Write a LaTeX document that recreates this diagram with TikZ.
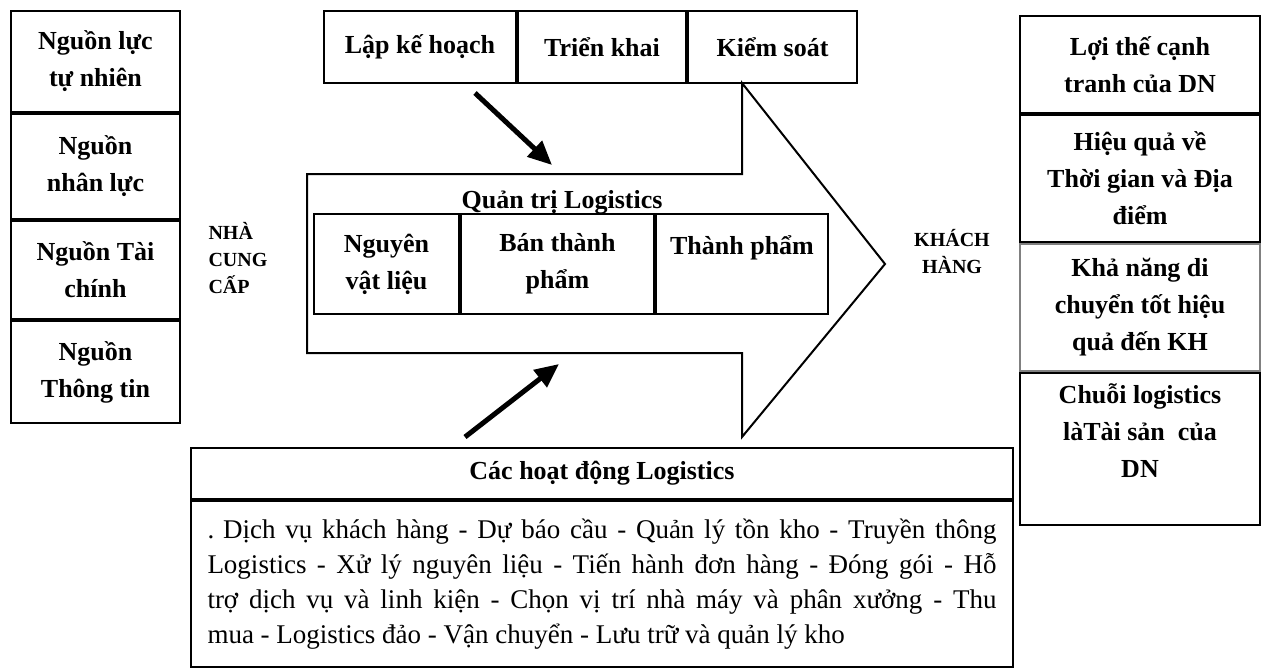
\documentclass[tikz,border=0pt]{standalone}
\usepackage{fontspec}
\setmainfont{Liberation Serif}
\usetikzlibrary{positioning,arrows.meta}

\begin{document}
\begin{tikzpicture}[x=1pt,y=-1pt,
        box/.style={draw,line width=2pt,inner sep=0pt,align=center,
          font=\fontsize{26}{37}\selectfont\bfseries},
        side/.style={align=center,font=\fontsize{20}{27}\selectfont\bfseries},
        flow/.style={line width=5pt,-{Triangle[length=24pt,width=21pt]}}]

  \useasboundingbox (0,0) rectangle (1264,669);

  \node[box,minimum width=169pt,minimum height=101pt,anchor=north west] (nat) at (10,10) {Nguồn lực\\tự nhiên};
  \node[box,minimum width=169pt,minimum height=105pt,below=0pt of nat] (hum) {Nguồn\\nhân lực};
  \node[box,minimum width=169pt,minimum height=98pt,below=0pt of hum] (fin) {Nguồn Tài\\chính};
  \node[box,minimum width=169pt,minimum height=102pt,below=0pt of fin] (info) {Nguồn\\Thông tin};

  \node[side,align=left,anchor=west] (sup) at (205,258) {NHÀ\\CUNG\\CẤP};

  \node[box,minimum width=192pt,minimum height=72pt,anchor=north west] (plan) at (323,10) {Lập kế hoạch};
  \node[box,minimum width=168pt,minimum height=72pt,right=0pt of plan] (run) {Triển khai};
  \node[box,minimum width=169pt,minimum height=72pt,right=0pt of run] (ctrl) {Kiểm soát};

  \draw[line width=2pt] (307,174) -- (742,174) -- (742,83) -- (885,264)
        -- (742,437) -- (742,353) -- (307,353) -- cycle;

  \node[font=\fontsize{26}{37}\selectfont\bfseries] (mgmt) at (562,202) {Quản trị Logistics};
  \node[box,minimum width=145pt,minimum height=100pt,anchor=north west] (raw) at (313,213) {Nguyên\\vật liệu};
  \node[box,minimum width=193pt,minimum height=100pt,right=0pt of raw] (semi) {Bán thành\\phẩm};
  \node[box,minimum width=172pt,minimum height=100pt,right=0pt of semi] (done) {Thành phẩm\\\mbox{}};

  \node[side] (cus) at (952,252) {KHÁCH\\HÀNG};

  \node[box,minimum width=240pt,minimum height=97pt,anchor=north west] (adv) at (1019,15) {Lợi thế cạnh\\tranh của DN};
  \node[box,minimum width=240pt,minimum height=127pt,below=0pt of adv] (eff) {Hiệu quả về\\Thời gian và Địa\\điểm};
  \node[box,minimum width=240pt,minimum height=127pt,below=0pt of eff,draw=gray] (move) {Khả năng di\\chuyển tốt hiệu\\quả đến KH};
  \node[box,minimum width=240pt,minimum height=152pt,below=0pt of move] (asset) {Chuỗi logistics\\làTài sản \ của\\DN\\\mbox{}};

  \node[box,minimum width=822pt,minimum height=51pt,anchor=north west] (acts) at (190,447) {Các hoạt động Logistics};
  \node[box,minimum width=822pt,minimum height=166pt,below=0pt of acts,align=left,
        font=\fontsize{27}{35}\selectfont] (list) {%
    \makebox[789pt][s]{\mbox{. Dịch} vụ khách hàng - Dự báo cầu - Quản lý tồn kho - Truyền thông}\\
    \makebox[789pt][s]{Logistics - Xử lý nguyên liệu - Tiến hành đơn hàng - Đóng gói - Hỗ}\\
    \makebox[789pt][s]{trợ dịch vụ và linh kiện - Chọn vị trí nhà máy và phân xưởng - Thu}\\
    \makebox[789pt][l]{mua - Logistics đảo - Vận chuyển - Lưu trữ và quản lý kho}};

  \coordinate (in1) at (475,93);
  \coordinate (to1) at (552,165);
  \coordinate (in2) at (465,437);
  \coordinate (to2) at (559,364);
  \draw[flow] (in1) -- (to1);
  \draw[flow] (in2) -- (to2);

\end{tikzpicture}
\end{document}
